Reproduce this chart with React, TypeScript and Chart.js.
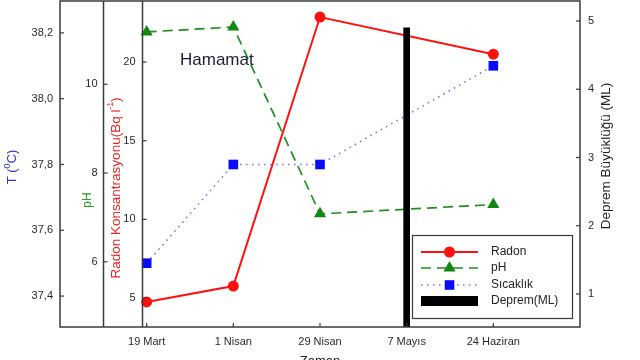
import React, { useEffect, useRef } from "react";
import { Chart, registerables } from "chart.js";

Chart.register(...registerables);

// ---------- data ----------
const categories = ["19 Mart", "1 Nisan", "29 Nisan", "7 Mayıs", "24 Haziran"];

const radonDates = ["19 Mart", "1 Nisan", "29 Nisan", "24 Haziran"];
const radonValues = [4.75, 5.76, 22.86, 20.5];

const phDates = ["19 Mart", "1 Nisan", "29 Nisan", "24 Haziran"];
const phValues = [11.18, 11.29, 7.08, 7.29];

const tempDates = ["19 Mart", "1 Nisan", "29 Nisan", "24 Haziran"];
const tempValues = [37.5, 37.8, 37.8, 38.1];

const depremDates = ["7 Mayıs"];
const depremValues = [4.9];

const tempTicks = [37.4, 37.6, 37.8, 38.0, 38.2];
const phTicks = [6, 8, 10];
const radonTicks = [5, 10, 15, 20];
const depremTicks = [1, 2, 3, 4, 5];

const xRange = [-1, 5];
const tempRange = [37.306, 38.297];
const phRange = [4.531, 11.876];
const radonRange = [3.16, 23.88];
const depremRange = [0.5165, 5.293];

// ---------- styles ----------
const FONT = "'Liberation Sans', Arial, sans-serif";
const TICK_COLOR = "#2a2a2a";
const FRAME_COLOR = "#3a3a3a";
const PH_AXIS_AT = -0.504; // x-scale value where the pH axis line stands
const RADON_AXIS_AT = -0.054; // x-scale value where the Radon axis line stands

function zeroPad(s: any) {
  s.paddingTop = 0;
  s.paddingBottom = 0;
  s.paddingLeft = 0;
  s.paddingRight = 0;
}

function rotatedText(ctx: CanvasRenderingContext2D, parts: any[], cx: number, cy: number) {
  ctx.save();
  ctx.translate(cx, cy);
  ctx.rotate(-Math.PI / 2);
  let total = 0;
  parts.forEach((p) => {
    ctx.font = p.font;
    total += ctx.measureText(p.text).width;
  });
  let x = -total / 2;
  ctx.textAlign = "left";
  ctx.textBaseline = "middle";
  parts.forEach((p) => {
    ctx.font = p.font;
    ctx.fillStyle = p.color;
    ctx.fillText(p.text, x, p.dy || 0);
    x += ctx.measureText(p.text).width;
  });
  ctx.restore();
}

function marker(ctx: CanvasRenderingContext2D, style: string, x: number, y: number, r: number, color: string) {
  ctx.save();
  ctx.fillStyle = color;
  ctx.setLineDash([]);
  ctx.beginPath();
  if (style === "circle") {
    ctx.arc(x, y, r, 0, Math.PI * 2);
  } else if (style === "triangle") {
    let rad = 0;
    ctx.moveTo(x + Math.sin(rad) * r, y - Math.cos(rad) * r);
    rad += (2 * Math.PI) / 3;
    ctx.lineTo(x + Math.sin(rad) * r, y - Math.cos(rad) * r);
    rad += (2 * Math.PI) / 3;
    ctx.lineTo(x + Math.sin(rad) * r, y - Math.cos(rad) * r);
    ctx.closePath();
  } else {
    const s = r * Math.SQRT1_2;
    ctx.rect(x - s, y - s, 2 * s, 2 * s);
  }
  ctx.fill();
  ctx.restore();
}

const customPlugin = {
  id: "customAxes",
  afterDraw(chart: any) {
    const ctx: CanvasRenderingContext2D = chart.ctx;
    const area = chart.chartArea;
    const sx = chart.scales.x;
    const sT = chart.scales.yT;
    const sP = chart.scales.yP;
    const sR = chart.scales.yR;
    const sD = chart.scales.yD;
    ctx.save();

    // frame
    ctx.strokeStyle = FRAME_COLOR;
    ctx.lineWidth = 1.5;
    ctx.setLineDash([]);
    ctx.strokeRect(area.left, area.top, area.right - area.left, area.bottom - area.top);

    ctx.lineWidth = 1.2;
    tempTicks.forEach((v) => {
      const y = sT.getPixelForValue(v);
      ctx.beginPath();
      ctx.moveTo(area.left, y);
      ctx.lineTo(area.left + 4, y);
      ctx.stroke();
    });
    depremTicks.forEach((v) => {
      const y = sD.getPixelForValue(v);
      ctx.beginPath();
      ctx.moveTo(area.right, y);
      ctx.lineTo(area.right - 4, y);
      ctx.stroke();
    });
    categories.forEach((_, i) => {
      const x = sx.getPixelForValue(i);
      ctx.beginPath();
      ctx.moveTo(x, area.bottom);
      ctx.lineTo(x, area.bottom - 4);
      ctx.stroke();
    });

    // pH axis
    const px = Math.round(sx.getPixelForValue(PH_AXIS_AT)) + 0.5;
    ctx.lineWidth = 1.5;
    ctx.beginPath();
    ctx.moveTo(px, area.top);
    ctx.lineTo(px, area.bottom);
    ctx.stroke();
    ctx.lineWidth = 1.2;
    ctx.font = `11px ${FONT}`;
    ctx.fillStyle = TICK_COLOR;
    ctx.textAlign = "right";
    ctx.textBaseline = "middle";
    phTicks.forEach((v) => {
      const y = sP.getPixelForValue(v);
      ctx.beginPath();
      ctx.moveTo(px, y);
      ctx.lineTo(px + 4, y);
      ctx.stroke();
      ctx.fillText(String(v), px - 6, y);
    });

    // Radon axis
    const rx = Math.round(sx.getPixelForValue(RADON_AXIS_AT)) + 0.5;
    ctx.lineWidth = 1.5;
    ctx.beginPath();
    ctx.moveTo(rx, area.top);
    ctx.lineTo(rx, area.bottom);
    ctx.stroke();
    ctx.lineWidth = 1.2;
    radonTicks.forEach((v) => {
      const y = sR.getPixelForValue(v);
      ctx.beginPath();
      ctx.moveTo(rx, y);
      ctx.lineTo(rx + 4, y);
      ctx.stroke();
      ctx.fillText(String(v), rx - 7, y);
    });

    // axis titles
    rotatedText(
      ctx,
      [
        { text: "T (", font: `13px ${FONT}`, color: "#3434c8" },
        { text: "0", font: `9px ${FONT}`, color: "#3434c8", dy: -4 },
        { text: "C)", font: `13px ${FONT}`, color: "#3434c8" },
      ],
      12,
      167
    );
    rotatedText(ctx, [{ text: "pH", font: `12px ${FONT}`, color: "#22a022" }], 88, 200);
    rotatedText(
      ctx,
      [
        { text: "Radon Konsantrasyonu(Bq l", font: `13.5px ${FONT}`, color: "#ee2222" },
        { text: "-1", font: `8.5px ${FONT}`, color: "#ee2222", dy: -5 },
        { text: ")", font: `13.5px ${FONT}`, color: "#ee2222" },
      ],
      116,
      188
    );
    rotatedText(ctx, [{ text: "Deprem Büyüklüğü (ML)", font: `13.5px ${FONT}`, color: "#222" }], 606, 156);

    // x title (partly outside the page)
    ctx.font = `13px ${FONT}`;
    ctx.fillStyle = "#222";
    ctx.textAlign = "center";
    ctx.textBaseline = "top";
    ctx.fillText("Zaman", (area.left + area.right) / 2, 355);

    // Hamamat label
    ctx.font = `17px ${FONT}`;
    ctx.fillStyle = "#1c1c3a";
    ctx.textAlign = "left";
    ctx.textBaseline = "middle";
    ctx.fillText("Hamamat", 180, 60);

    // legend
    const lx = 412, ly = 235, lw = 160, lh = 83;
    ctx.fillStyle = "#fff";
    ctx.fillRect(lx, ly, lw, lh);
    ctx.strokeStyle = FRAME_COLOR;
    ctx.lineWidth = 1.2;
    ctx.strokeRect(lx + 0.5, ly + 0.5, lw, lh);
    const ds = chart.data.datasets;
    const order = [1, 2, 3, 0];
    const rows = [252, 268, 285, 301];
    order.forEach((di, k) => {
      const d = ds[di];
      const y = rows[k];
      if (d.type === "bar") {
        ctx.fillStyle = d.backgroundColor;
        ctx.fillRect(421, y - 5, 57, 10);
      } else {
        ctx.save();
        ctx.strokeStyle = d.borderColor;
        ctx.lineWidth = d.borderWidth;
        ctx.setLineDash(d.borderDash || []);
        ctx.beginPath();
        ctx.moveTo(421, y);
        ctx.lineTo(478, y);
        ctx.stroke();
        ctx.restore();
        marker(ctx, d.pointStyle, 449.5, y, d.pointRadius, d.pointBackgroundColor);
      }
      ctx.font = `12px ${FONT}`;
      ctx.fillStyle = "#222";
      ctx.textAlign = "left";
      ctx.textBaseline = "middle";
      ctx.fillText(d.label, 491, y);
    });

    ctx.restore();
  },
};

export default function App() {
  const ref = useRef<HTMLCanvasElement>(null);

  useEffect(() => {
    const canvas = ref.current;
    if (!canvas) return;
    const xOf = (d: string) => categories.indexOf(d);
    const tickFont = { family: FONT, size: 11 };

    const chart = new Chart(canvas, {
      type: "line",
      data: {
        datasets: [
          {
            type: "bar",
            label: "Deprem(ML)",
            data: depremDates.map((d, i) => ({ x: xOf(d), y: depremValues[i] })),
            backgroundColor: "#000000",
            borderWidth: 0,
            barThickness: 6,
            xAxisID: "x",
            yAxisID: "yD",
            order: 0,
          } as any,
          {
            type: "line",
            label: "Radon",
            data: radonDates.map((d, i) => ({ x: xOf(d), y: radonValues[i] })),
            borderColor: "#ff1010",
            backgroundColor: "#ff1010",
            pointBackgroundColor: "#ff1010",
            pointBorderColor: "#ff1010",
            borderWidth: 2,
            pointStyle: "circle",
            pointRadius: 5.5,
            pointBorderWidth: 0,
            tension: 0,
            xAxisID: "x",
            yAxisID: "yR",
            order: 1,
          },
          {
            type: "line",
            label: "pH",
            data: phDates.map((d, i) => ({ x: xOf(d), y: phValues[i] })),
            borderColor: "#1f8f1f",
            backgroundColor: "#118811",
            pointBackgroundColor: "#118811",
            pointBorderColor: "#118811",
            borderWidth: 1.7,
            borderDash: [10, 6],
            pointStyle: "triangle",
            pointRadius: 7,
            pointBorderWidth: 0,
            tension: 0,
            xAxisID: "x",
            yAxisID: "yP",
            order: 1,
          },
          {
            type: "line",
            label: "Sıcaklık",
            data: tempDates.map((d, i) => ({ x: xOf(d), y: tempValues[i] })),
            borderColor: "#7070ff",
            backgroundColor: "#0a0aff",
            pointBackgroundColor: "#0a0aff",
            pointBorderColor: "#0a0aff",
            borderWidth: 1.6,
            borderDash: [1.5, 4.5],
            pointStyle: "rect",
            pointRadius: 6.8,
            pointBorderWidth: 0,
            tension: 0,
            xAxisID: "x",
            yAxisID: "yT",
            order: 1,
          },
        ],
      },
      options: {
        responsive: false,
        animation: false,
        devicePixelRatio: 1,
        layout: { autoPadding: false, padding: { top: 1, bottom: 0, left: 0, right: 0 } },
        plugins: { legend: { display: false }, tooltip: { enabled: false } },
        scales: {
          x: {
            type: "linear",
            min: xRange[0],
            max: xRange[1],
            offset: false,
            afterBuildTicks: (s: any) => {
              s.ticks = categories.map((_, i) => ({ value: i }));
            },
            ticks: {
              callback: (v: any) => categories[v] ?? "",
              font: tickFont,
              color: TICK_COLOR,
              padding: 8,
              maxRotation: 0,
              autoSkip: false,
            },
            grid: { display: false, drawTicks: false },
            border: { display: false },
            afterFit: (s: any) => {
              s.height = 33;
              zeroPad(s);
            },
          },
          yT: {
            type: "linear",
            position: "left",
            min: tempRange[0],
            max: tempRange[1],
            afterBuildTicks: (s: any) => {
              s.ticks = tempTicks.map((v) => ({ value: v }));
            },
            ticks: {
              callback: (v: any) => Number(v).toFixed(1).replace(".", ","),
              font: tickFont,
              color: TICK_COLOR,
              padding: 7,
            },
            grid: { display: false, drawTicks: false },
            border: { display: false },
            afterFit: (s: any) => {
              s.width = 60;
              zeroPad(s);
            },
          },
          yP: { type: "linear", position: "left", display: false, min: phRange[0], max: phRange[1], afterFit: zeroPad },
          yR: { type: "linear", position: "left", display: false, min: radonRange[0], max: radonRange[1], afterFit: zeroPad },
          yD: {
            type: "linear",
            position: "right",
            min: depremRange[0],
            max: depremRange[1],
            afterBuildTicks: (s: any) => {
              s.ticks = depremTicks.map((v) => ({ value: v }));
            },
            ticks: {
              callback: (v: any) => String(v),
              font: tickFont,
              color: TICK_COLOR,
              padding: 8,
            },
            grid: { display: false, drawTicks: false },
            border: { display: false },
            afterFit: (s: any) => {
              s.width = 60;
              zeroPad(s);
            },
          },
        },
      } as any,
      plugins: [customPlugin],
    });

    return () => chart.destroy();
  }, []);

  return (
    <div style={{ position: "fixed", left: 0, top: 0, width: 640, height: 360, background: "#fff", overflow: "hidden" }}>
      <canvas ref={ref} width={640} height={360} style={{ display: "block" }} />
    </div>
  );
}
